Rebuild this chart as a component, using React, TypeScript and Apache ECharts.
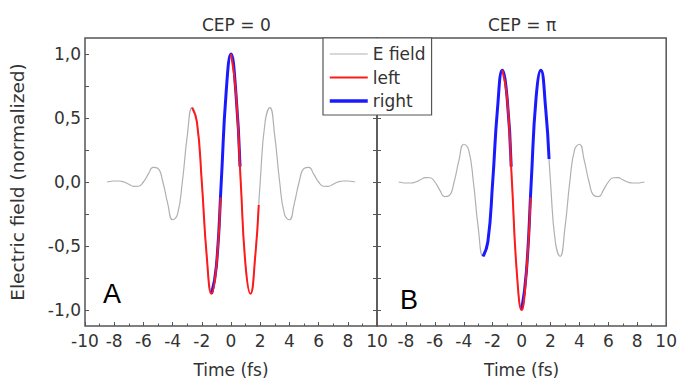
import { useEffect, useRef } from "react";
import * as echarts from "echarts";

// Time samples (fs) at 1/8 optical period spacing
const timeFs = [
  -8.5, -8.333, -8, -7.667, -7.333, -7, -6.667, -6.333, -6, -5.667, -5.333, -5, -4.667,
  -4.333, -4, -3.667, -3.333, -3, -2.667, -2.333, -2, -1.667, -1.333, -1, -0.667, -0.333,
  0, 0.333, 0.667, 1, 1.333, 1.667, 2, 2.333, 2.667, 3, 3.333, 3.667, 4, 4.333, 4.667, 5,
  5.333, 5.667, 6, 6.333, 6.667, 7, 7.333, 7.667, 8, 8.333, 8.5,
];

// Normalized electric field, CEP = 0 (panel A)
const cep0Field = [
  0, 0.004, 0.008, 0.008, 0, -0.017, -0.034, -0.033, 0, 0.061, 0.114, 0.105, 0,
  -0.169, -0.295, -0.253, 0, 0.356, 0.581, 0.467, 0, -0.572, -0.873, -0.655, 0, 0.701,
  1.0, 0.701, 0, -0.655, -0.873, -0.572, 0, 0.467, 0.581, 0.356, 0, -0.253, -0.295,
  -0.169, 0, 0.105, 0.114, 0.061, 0, -0.033, -0.034, -0.017, 0, 0.008, 0.008, 0.004, 0,
];

// Normalized electric field, CEP = pi (panel B)
const cepPiField = [
  0, -0.004, -0.008, -0.008, 0, 0.017, 0.034, 0.033, 0, -0.061, -0.114, -0.105, 0,
  0.169, 0.295, 0.253, 0, -0.356, -0.581, -0.467, 0, 0.572, 0.873, 0.655, 0, -0.701,
  -1.0, -0.701, 0, 0.655, 0.873, 0.572, 0, -0.467, -0.581, -0.356, 0, 0.253, 0.295,
  0.169, 0, -0.105, -0.114, -0.061, 0, 0.033, 0.034, 0.017, 0, -0.008, -0.008, -0.004, 0,
];

// Highlighted segments [time, field]
const cep0RightSeg = [[-1.333, -0.873], [-1, -0.655], [-0.667, 0], [-0.333, 0.701], [0, 1.0], [0.333, 0.701], [0.62, 0.12]];
const cep0LeftSeg1 = [[-2.667, 0.581], [-2.333, 0.467], [-2, 0], [-1.667, -0.572], [-1.333, -0.873], [-1, -0.655], [-0.72, -0.12]];
const cep0LeftSeg2 = [[0, 1.0], [0.333, 0.701], [0.667, 0], [1, -0.655], [1.333, -0.873], [1.667, -0.572], [1.9, -0.18]];
const cepPiLeftSeg = [[-1.333, 0.873], [-1, 0.655], [-0.667, 0], [-0.333, -0.701], [0, -1.0], [0.333, -0.701], [0.62, -0.12]];
const cepPiRightSeg1 = [[-2.667, -0.581], [-2.333, -0.467], [-2, 0], [-1.667, 0.572], [-1.333, 0.873], [-1, 0.655], [-0.72, 0.12]];
const cepPiRightSeg2 = [[0, -1.0], [0.333, -0.701], [0.667, 0], [1, 0.655], [1.333, 0.873], [1.667, 0.572], [1.9, 0.18]];

const yLabelValues = [-1, -0.5, 0, 0.5, 1];
const yTickValues = [-1, -0.75, -0.5, -0.25, 0, 0.25, 0.5, 0.75, 1];
const panelTitles = ["CEP = 0", "CEP = \u03c0"];
const panelLetters = ["A", "B"];
const legendNames = ["E field", "left", "right"];

const FONT = "DejaVu Sans";
const TXT = "#333333";
const FRAME = "#555555";
const GRAY = "#b0b0b0";
const RED = "#ff1a1a";
const BLUE = "#1a1aff";

export default function App() {
  const ref = useRef<HTMLDivElement>(null);

  useEffect(() => {
    if (!ref.current) return;
    const chart = echarts.init(ref.current, null, { renderer: "svg" });

    const labelStyle = { fontSize: 17, color: TXT, fontFamily: FONT };
    const yRange = { min: -1.125, max: 1.125 };

    const xAxisBase = (gridIndex: number, showMin: boolean) => ({
      type: "value",
      gridIndex,
      min: -10,
      max: 10,
      interval: 2,
      axisLine: { show: false, onZero: false },
      axisTick: { show: true, inside: true, length: 4, lineStyle: { color: FRAME, width: 1 } },
      minorTick: { show: true, splitNumber: 2, length: 2.5, lineStyle: { color: FRAME, width: 1 } },
      splitLine: { show: false },
      axisLabel: { ...labelStyle, margin: 6, showMinLabel: showMin, showMaxLabel: true },
      name: "Time (fs)",
      nameLocation: "middle",
      nameGap: 35,
      nameTextStyle: { ...labelStyle },
    });

    const tickOnlyY = (gridIndex: number, position: string) => ({
      type: "value",
      gridIndex,
      position,
      ...yRange,
      axisLine: { show: false, onZero: false },
      axisTick: { show: true, inside: true, length: 4, customValues: yTickValues, lineStyle: { color: FRAME, width: 1 } },
      axisLabel: { show: false },
      splitLine: { show: false },
    });

    const line = (name: string, x: number, y: number, data: number[][], color: string, width: number, z: number) => ({
      name,
      type: "line",
      xAxisIndex: x,
      yAxisIndex: y,
      data,
      smooth: true,
      symbol: "none",
      lineStyle: { color, width },
      itemStyle: { color },
      z,
    });

    const hiddenMark = { color: "rgba(0,0,0,0)", borderColor: "rgba(0,0,0,0)", borderWidth: 0, opacity: 0 };

    chart.setOption({
      animation: false,
      backgroundColor: "#ffffff",
      title: [
        { text: panelTitles[0], left: 202, top: 16, padding: 0, textStyle: { ...labelStyle, fontWeight: "normal" } },
        { text: panelTitles[1], left: 488, top: 16, padding: 0, textStyle: { ...labelStyle, fontWeight: "normal" } },
      ],
      legend: {
        orient: "vertical",
        left: 323,
        top: 38,
        padding: [7.5, 6, 5.5, 5],
        itemWidth: 38,
        itemHeight: 12,
        itemGap: 6.5,
        selectedMode: false,
        backgroundColor: "#ffffff",
        borderColor: FRAME,
        borderWidth: 1.2,
        textStyle: { ...labelStyle, lineHeight: 17 },
        itemStyle: hiddenMark,
        data: [
          { name: legendNames[0], itemStyle: hiddenMark, lineStyle: { color: GRAY, width: 1 } },
          { name: legendNames[1], itemStyle: hiddenMark, lineStyle: { color: RED, width: 2 } },
          { name: legendNames[2], itemStyle: hiddenMark, lineStyle: { color: BLUE, width: 3.5 } },
        ],
      },
      grid: [
        { left: 85, top: 38, width: 292, height: 293, show: true, borderColor: FRAME, borderWidth: 1.5, backgroundColor: "transparent" },
        { left: 377, top: 38, width: 292, height: 293, show: true, borderColor: FRAME, borderWidth: 1.5, backgroundColor: "transparent" },
      ],
      xAxis: [xAxisBase(0, true), xAxisBase(1, false)],
      yAxis: [
        {
          type: "value",
          gridIndex: 0,
          position: "left",
          ...yRange,
          axisLine: { show: false, onZero: false },
          axisTick: { show: true, inside: true, length: 4, customValues: yTickValues, lineStyle: { color: FRAME, width: 1 } },
          axisLabel: {
            ...labelStyle,
            margin: 4,
            customValues: yLabelValues,
            formatter: (v: number) => v.toFixed(1).replace(".", ","),
          },
          splitLine: { show: false },
          name: "Electric field (normalized)",
          nameLocation: "middle",
          nameGap: 58,
          nameTextStyle: { fontSize: 18.5, color: TXT, fontFamily: FONT },
        },
        tickOnlyY(0, "right"),
        tickOnlyY(1, "left"),
      ],
      series: [
        line(legendNames[0], 0, 0, timeFs.map((t, i) => [t, cep0Field[i]]), GRAY, 1.2, 2),
        line(legendNames[2], 0, 0, cep0RightSeg, BLUE, 3, 3),
        line(legendNames[1], 0, 0, cep0LeftSeg1, RED, 2, 4),
        line(legendNames[1], 0, 0, cep0LeftSeg2, RED, 2, 4),
        line(legendNames[0], 1, 2, timeFs.map((t, i) => [t, cepPiField[i]]), GRAY, 1.2, 2),
        line(legendNames[2], 1, 2, cepPiRightSeg1, BLUE, 3, 3),
        line(legendNames[2], 1, 2, cepPiRightSeg2, BLUE, 3, 3),
        line(legendNames[1], 1, 2, cepPiLeftSeg, RED, 2, 4),
      ],
      graphic: [
        { type: "text", x: 103, y: 294, z: 10, style: { text: panelLetters[0], fontSize: 27, fontFamily: "Liberation Sans", fill: "#000", align: "left", verticalAlign: "middle" } },
        { type: "text", x: 400, y: 300, z: 10, style: { text: panelLetters[1], fontSize: 27, fontFamily: "Liberation Sans", fill: "#000", align: "left", verticalAlign: "middle" } },
      ],
    });

    return () => chart.dispose();
  }, []);

  return (
    <div
      ref={ref}
      style={{ position: "fixed", left: 0, top: 0, width: 680, height: 383, background: "#fff" }}
    />
  );
}
